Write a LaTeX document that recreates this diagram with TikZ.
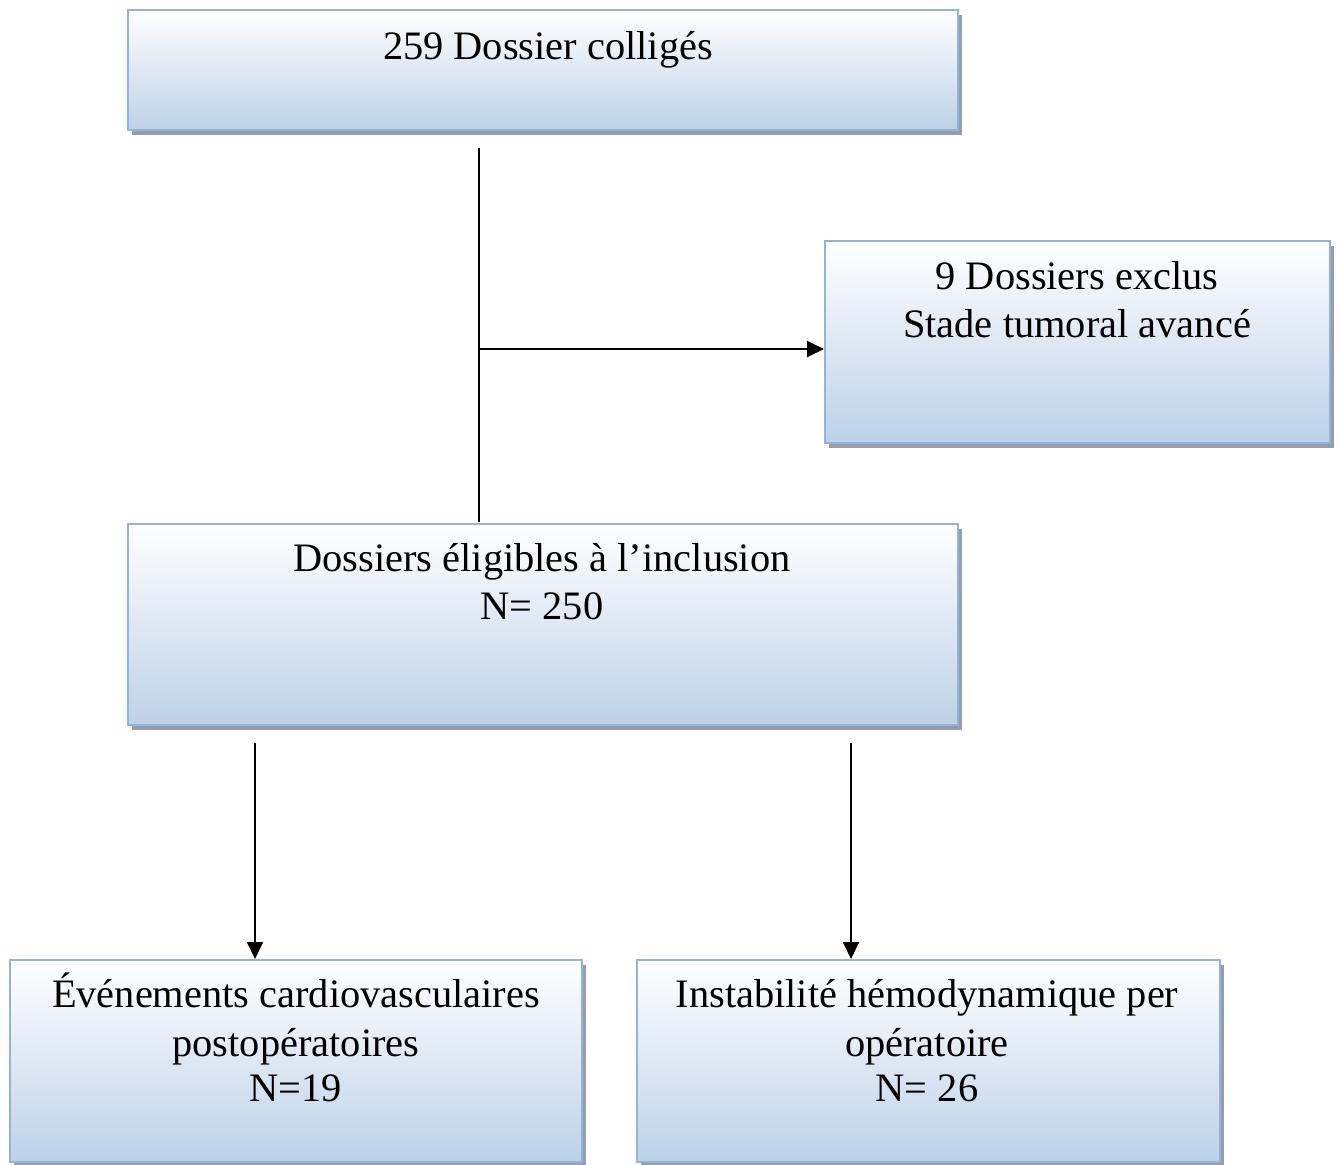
\documentclass[tikz,border=0pt]{standalone}
\usepackage{fontspec}
\setmainfont{Liberation Serif}
\usetikzlibrary{shadows,fit,arrows.meta}
\definecolor{boxborder}{HTML}{95B3D7}
\definecolor{boxblue}{HTML}{BDD1E8}
\definecolor{shadowgray}{HTML}{939FAE}
\tikzset{
  box/.style={draw=boxborder, line width=1pt, inner sep=0pt, top color=white, bottom color=boxblue,
    drop shadow={shadow xshift=2.2pt, shadow yshift=-2.5pt, fill=shadowgray, opacity=1}},
  txt/.style={anchor=base, inner sep=0pt, font=\fontsize{20.2}{24}\selectfont},
  conn/.style={line width=0.9pt, black},
  arr/.style={conn, -{Triangle[length=8.5pt,width=8pt]}}
}
\begin{document}
\begin{tikzpicture}[x=0.5pt,y=-0.5pt]
\useasboundingbox (0,0) rectangle (1340,1164);
\node[box, fit={(128,10) (958,130)}] (b1) {};
\node[box, fit={(825,241) (1330,443)}] (b2) {};
\node[box, fit={(128,524) (958,725)}] (b3) {};
\node[box, fit={(10,960) (582,1162)}] (b4) {};
\node[box, fit={(637,960) (1220,1162)}] (b5) {};

\node[txt] (t1) at (548,59) {259 Dossier colligés};
\node[txt] (t2a) at (1077,289) {9 Dossiers exclus};
\node[txt] (t2b) at (1077,337) {Stade tumoral avancé};
\node[txt] (t3a) at (542,571) {Dossiers éligibles à l’inclusion};
\node[txt] (t3b) at (542,619) {N= 250};
\node[txt] (t4a) at (296,1007) {Événements cardiovasculaires};
\node[txt] (t4b) at (296,1056) {postopératoires};
\node[txt] (t4c) at (296,1101) {N=19};
\node[txt] (t5a) at (927,1007) {Instabilité hémodynamique per};
\node[txt] (t5b) at (927,1056) {opératoire};
\node[txt] (t5c) at (927,1101) {N= 26};

\coordinate (v1) at (479,148);
\coordinate (v2) at (479,522);
\coordinate (j) at (479,349);
\coordinate (a1) at (255,743);
\coordinate (a2) at (851,743);

\draw[conn] (v1) -- (v2);
\draw[arr] (j) -- (j -| b2.west);
\draw[arr] (a1) -- (a1 |- b4.north);
\draw[arr] (a2) -- (a2 |- b5.north);
\end{tikzpicture}
\end{document}
